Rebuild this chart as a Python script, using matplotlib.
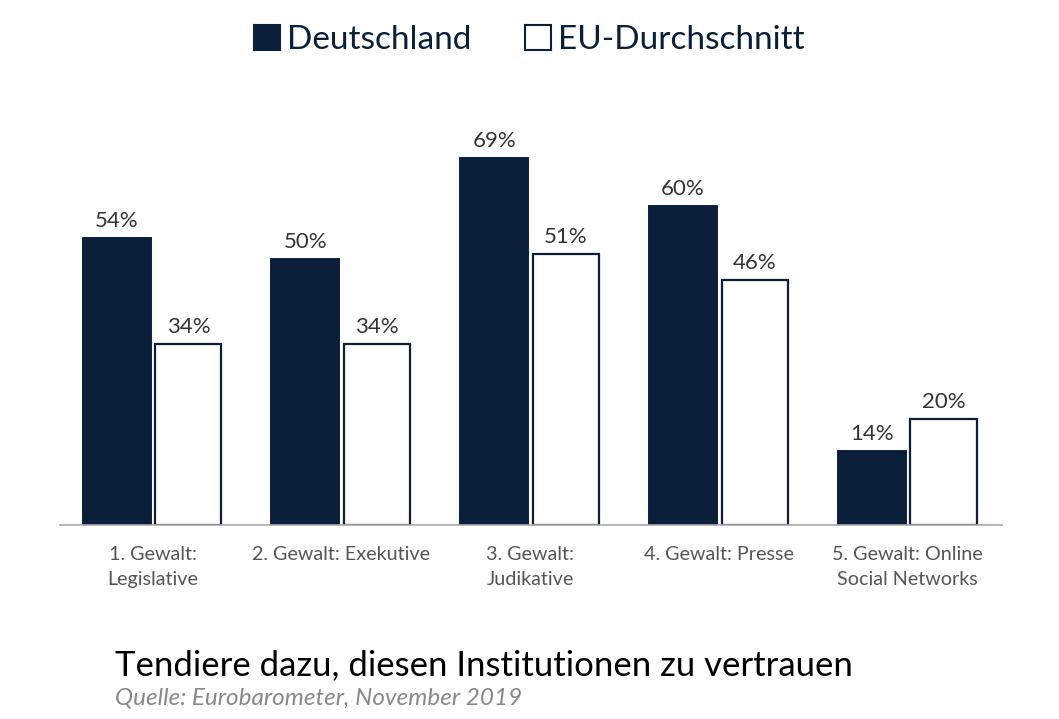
import matplotlib.pyplot as plt
import matplotlib.patches as mpatches
import numpy as np

plt.rcParams['font.family'] = ['Lato', 'DejaVu Sans']

kategorien = ['1. Gewalt:\nLegislative', '2. Gewalt: Exekutive', '3. Gewalt:\nJudikative',
              '4. Gewalt: Presse', '5. Gewalt: Online\nSocial Networks']
deutschland = [54, 50, 69, 60, 14]
eu_schnitt = [34, 34, 51, 46, 20]

navy = '#0b1e3a'

fig = plt.figure(figsize=(10.59, 7.19), dpi=100)
ax = fig.add_axes([60 / 1059, 194 / 719, 942 / 1059, 399 / 719])

x = np.arange(len(kategorien))
b1 = ax.bar(x - 0.19, deutschland, 0.36, color=navy, edgecolor=navy, linewidth=1.4)
b2 = ax.bar(x + 0.19, eu_schnitt, 0.35, color='white', edgecolor=navy, linewidth=1.6)

for bars, werte in [(b1, deutschland), (b2, eu_schnitt)]:
    for b, w in zip(bars, werte):
        ax.text(b.get_x() + b.get_width() / 2, w + 1.3, f'{w}%', ha='center', va='bottom',
                fontsize=16, color='#333333')

ax.set_xlim(-0.49, 4.5)
ax.set_ylim(0, 75)
ax.set_xticks(x)
ax.set_xticklabels(kategorien, fontsize=14.2, color='#555555', linespacing=1.6, va='top')
ax.tick_params(axis='x', length=0, pad=15)
ax.set_yticks([])
for s in ['top', 'right', 'left']:
    ax.spines[s].set_visible(False)
ax.spines['bottom'].set_color('#aaaaaa')
ax.spines['bottom'].set_linewidth(1.2)

handles = [mpatches.Patch(facecolor=navy, edgecolor=navy, linewidth=1.5),
           mpatches.Patch(facecolor='white', edgecolor=navy, linewidth=1.5)]
fig.legend(handles, ['Deutschland', 'EU-Durchschnitt'], loc='center', bbox_to_anchor=(0.5, 1 - 40 / 719),
           ncol=2, frameon=False, fontsize=24, handlelength=0.78, handleheight=0.78,
           handletextpad=0.22, columnspacing=1.6, labelcolor=navy)

fig.text(115 / 1059, 1 - 665 / 719, 'Tendiere dazu, diesen Institutionen zu vertrauen',
         fontsize=25, color='black', va='center')
fig.text(115 / 1059, 1 - 698 / 719, 'Quelle: Eurobarometer, November 2019',
         fontsize=17.5, color='#888888', style='italic', va='center')

fig.savefig('out.png', dpi=100)
